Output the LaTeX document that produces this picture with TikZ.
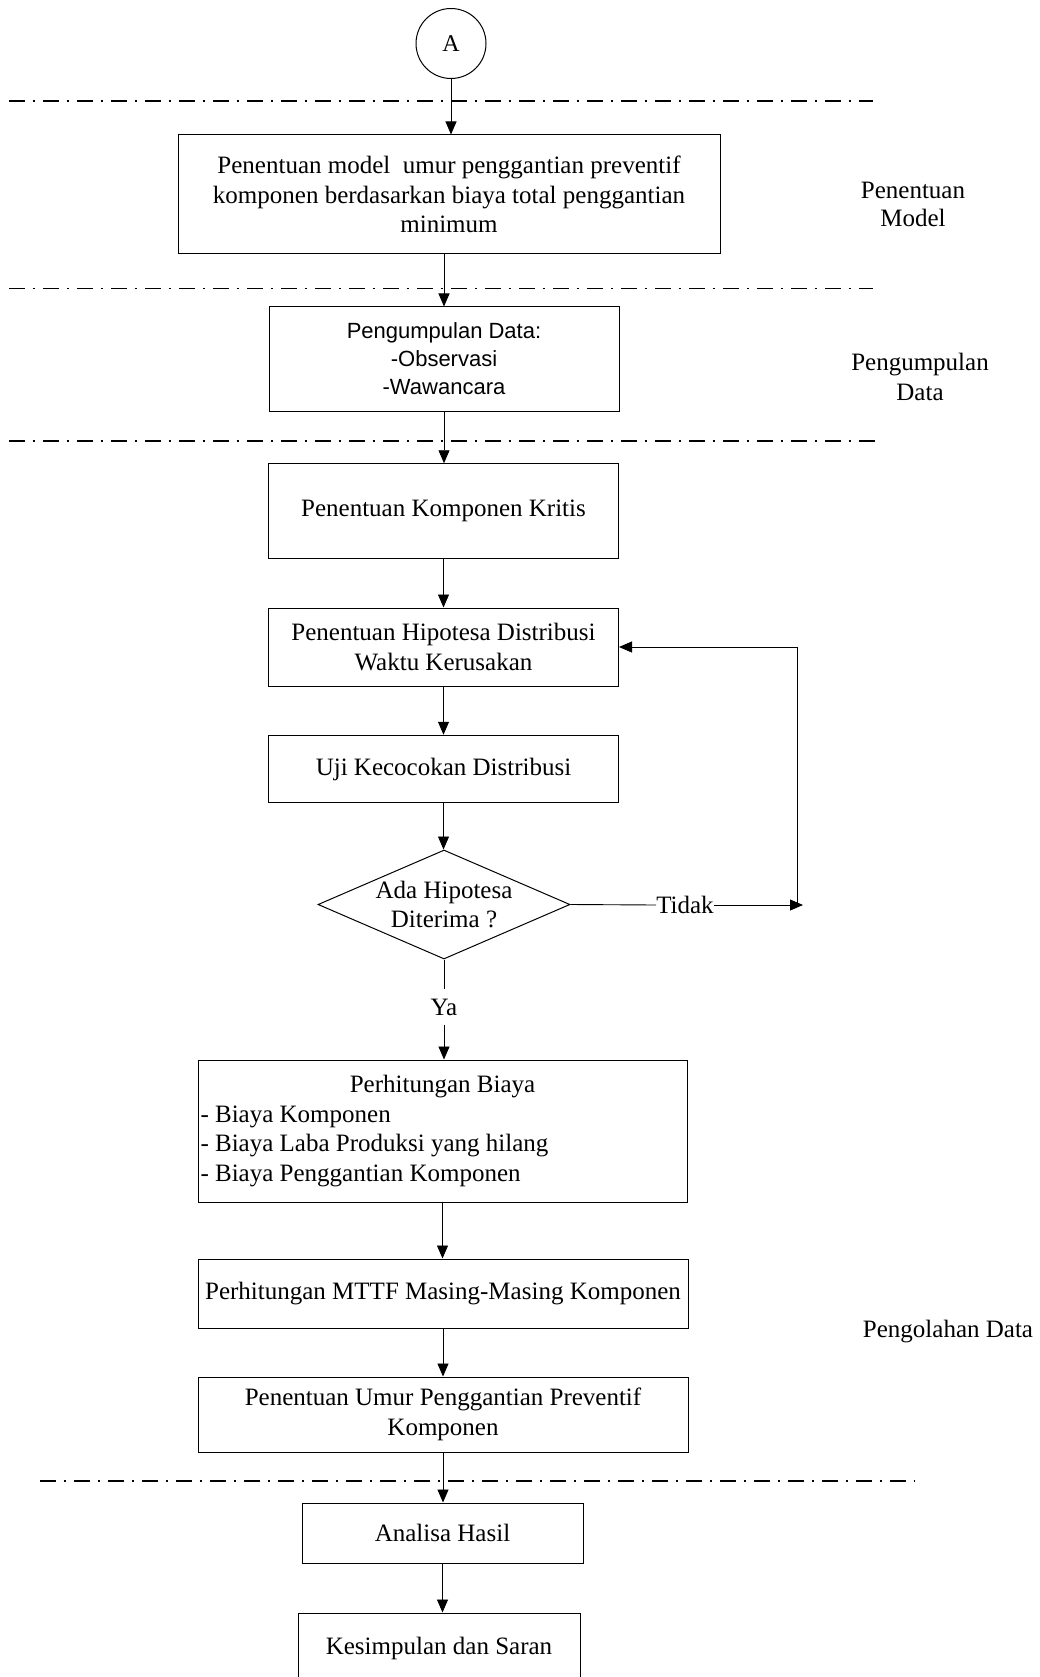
\documentclass[tikz,border=0pt]{standalone}
\usepackage{fontspec}
\setmainfont{Liberation Serif}
\newfontfamily\arialf{Liberation Sans}
\usetikzlibrary{shapes.geometric,arrows.meta}
\begin{document}
\begin{tikzpicture}[x=1pt,y=-1pt,
  every node/.style={font=\fontsize{25}{29.5}\selectfont},
  procbox/.style={draw, rectangle, line width=1pt, align=center, inner sep=2pt},
  conn/.style={line width=0.9pt, -{Triangle[length=13pt,width=11pt]}},
  plainln/.style={line width=0.9pt},
  sepline/.style={line width=1.7pt, dash pattern=on 16pt off 7.5pt on 2pt off 8.5pt},
  sidelbl/.style={align=center}
]
\useasboundingbox (0,0) rectangle (1040,1677);
\fill[white] (0,0) rectangle (1040,1677);

% separators
\draw[sepline] (9,101) -- (873,101);
\draw[sepline] (9,288.5) -- (873,288.5);
\draw[sepline] (9,441) -- (879,441);
\draw[sepline] (40,1481) -- (915,1481);

% nodes
\node[circle, draw, line width=1pt, minimum size=70pt, inner sep=0pt, font=\fontsize{24}{28}\selectfont] (A) at (451,43.5) {A};
\node[procbox, minimum width=542pt, minimum height=119pt] (b1) at (449,194.5)
  {Penentuan model\ \ umur penggantian preventif\\komponen berdasarkan biaya total penggantian\\minimum};
\node[procbox, minimum width=350pt, minimum height=104pt, font=\arialf\fontsize{22}{28}\selectfont] (b2) at (444,359)
  {Pengumpulan Data:\\-Observasi\\-Wawancara};
\node[procbox, minimum width=350pt, minimum height=94.5pt] (b3) at (443.5,511) {Penentuan Komponen Kritis};
\node[procbox, minimum width=350pt, minimum height=78pt] (b4) at (443.5,647) {Penentuan Hipotesa Distribusi\\Waktu Kerusakan};
\node[procbox, minimum width=350pt, minimum height=67.5pt] (b5) at (443.5,769) {Uji Kecocokan Distribusi};
\node[diamond, draw, line width=1pt, minimum width=252pt, minimum height=109pt, inner sep=0pt] (d) at (444,904.5) {};
\node[align=center] (dt) at (d.center) {Ada Hipotesa\\Diterima ?};
\node[inner sep=0pt, minimum height=35pt] (ya) at (444,1007) {Ya};
\node[inner xsep=0pt] (tidak) at (685,905) {Tidak};
\node[procbox, minimum width=489pt, minimum height=142pt, text width=484pt, align=flush left, inner xsep=2.5pt] (b6) at (442.5,1131)
  {\makebox[\linewidth]{Perhitungan Biaya}\\- Biaya Komponen\\- Biaya Laba Produksi yang hilang\\- Biaya Penggantian Komponen};
\node[procbox, minimum width=490pt, minimum height=69pt] (b7) at (443,1293.5) {Perhitungan MTTF Masing-Masing Komponen};
\node[procbox, minimum width=490pt, minimum height=75pt] (b8) at (443,1414.5) {Penentuan Umur Penggantian Preventif\\Komponen};
\node[procbox, minimum width=281pt, minimum height=60pt] (b9) at (442.5,1533) {Analisa Hasil};
\node[procbox, minimum width=282pt, minimum height=70pt] (b10) at (439,1648) {Kesimpulan dan Saran};

% side labels
\node[sidelbl, font=\fontsize{25}{28}\selectfont] (s1) at (913,204.5) {Penentuan\\Model};
\node[sidelbl, font=\fontsize{25}{30}\selectfont] (s2) at (920,376.5) {Pengumpulan\\Data};
\node[sidelbl] (s3) at (948,1332) {Pengolahan Data};

% connectors
\coordinate (tend) at (803,905);
\coordinate (vb) at (797,905);
\coordinate (vt) at (797,647);
\draw[conn] (A.south) -- (A.south |- b1.north);
\draw[conn] (b2.north |- b1.south) -- (b2.north);
\draw[conn] (b2.south) -- (b2.south |- b3.north);
\draw[conn] (b3.south) -- (b4.north);
\draw[conn] (b4.south) -- (b5.north);
\draw[conn] (b5.south) -- (b5.south |- d.north);
\draw[plainln] (d.south) -- (ya.north);
\draw[conn] (ya.south) -- (ya.south |- b6.north);
\draw[conn] (b6.south) -- (b6.south |- b7.north);
\draw[conn] (b7.south) -- (b8.north);
\draw[conn] (b8.south) -- (b8.south |- b9.north);
\draw[conn] (b9.south) -- (b9.south |- b10.north);
\draw[plainln] (d.east) -- (tidak.west);
\draw[conn] (tidak.east) -- (tend);
\draw[conn] (vb) -- (vt) -- (b4.east);
\end{tikzpicture}
\end{document}
